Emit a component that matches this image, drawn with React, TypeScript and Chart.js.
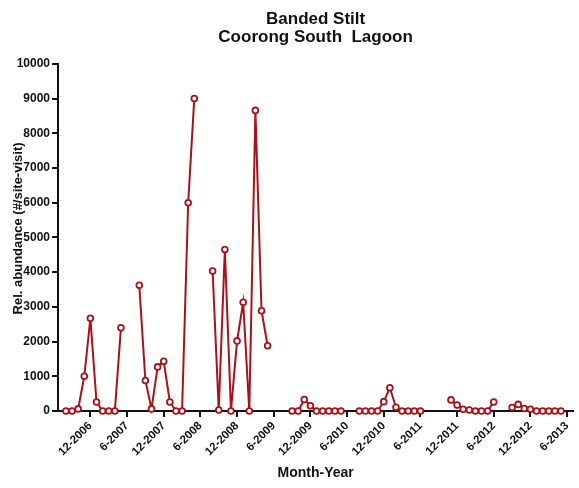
import React, { useEffect, useRef } from "react";
import { Chart, registerables } from "chart.js";

Chart.register(...registerables);

const titleLines = ["Banded Stilt", "Coorong South  Lagoon"];
const xTitle = "Month-Year";
const yTitle = "Rel. abundance (#/site-visit)";

const months = [
  "8-2006", "9-2006", "10-2006", "11-2006", "12-2006",
  "1-2007", "2-2007", "3-2007", "4-2007", "5-2007", "6-2007", "7-2007", "8-2007", "9-2007", "10-2007", "11-2007", "12-2007",
  "1-2008", "2-2008", "3-2008", "4-2008", "5-2008", "6-2008", "7-2008", "8-2008", "9-2008", "10-2008", "11-2008", "12-2008",
  "1-2009", "2-2009", "3-2009", "4-2009", "5-2009", "6-2009", "7-2009", "8-2009", "9-2009", "10-2009", "11-2009", "12-2009",
  "1-2010", "2-2010", "3-2010", "4-2010", "5-2010", "6-2010", "7-2010", "8-2010", "9-2010", "10-2010", "11-2010", "12-2010",
  "1-2011", "2-2011", "3-2011", "4-2011", "5-2011", "6-2011", "7-2011", "8-2011", "9-2011", "10-2011", "11-2011", "12-2011",
  "1-2012", "2-2012", "3-2012", "4-2012", "5-2012", "6-2012", "7-2012", "8-2012", "9-2012", "10-2012", "11-2012", "12-2012",
  "1-2013", "2-2013", "3-2013", "4-2013", "5-2013",
];

const abundance: (number | null)[] = [
  0, 0, 60, 1000, 2670,
  260, 0, 0, 0, 2400, null, null, 3620, 880, 60, 1270, 1430,
  260, 0, 0, 6000, 9000, null, null, 4030, 30, 4650, 0, 2020,
  3130, 0, 8660, 2890, 1880, null, null, null, 0, 0, 330, 150,
  0, 0, 0, 0, 0, null, null, 0, 0, 0, 0, 270,
  670, 110, 0, 0, 0, 0, null, null, null, null, 320, 170,
  50, 30, 0, 0, 0, 260, null, null, 100, 190, 70, 50,
  0, 0, 0, 0, 0,
];

const tickLabels = [
  "12-2006", "6-2007", "12-2007", "6-2008", "12-2008", "6-2009", "12-2009",
  "6-2010", "12-2010", "6-2011", "12-2011", "6-2012", "12-2012", "6-2013",
];

const yTicksMax = 10000;
const yTicksStep = 1000;

const monthIndex = (s: string) => {
  const [m, y] = s.split("-").map(Number);
  return (y - 2006) * 12 + (m - 1);
};

const FONT = "'Liberation Sans', Arial, Helvetica, sans-serif";
const RED = "#a8121a";
const INK = "#111111";

export default function App() {
  const ref = useRef<HTMLCanvasElement | null>(null);

  useEffect(() => {
    if (!ref.current) return;
    const points = months.map((m, i) => ({ x: monthIndex(m), y: abundance[i] }));
    const tickMap = new Map(tickLabels.map((t) => [monthIndex(t), t]));

    const chart = new Chart(ref.current, {
      type: "line",
      data: {
        datasets: [
          {
            data: points as any,
            borderColor: RED,
            borderWidth: 2,
            pointRadius: 2.9,
            pointBorderWidth: 1.8,
            pointBackgroundColor: "#ffffff",
            pointBorderColor: RED,
            spanGaps: false,
            tension: 0,
            clip: false as any,
          },
        ],
      },
      options: {
        animation: false,
        responsive: true,
        maintainAspectRatio: false,
        layout: { padding: 0 },
        plugins: {
          legend: { display: false },
          tooltip: { enabled: false },
          title: {
            display: true,
            text: titleLines,
            fullSize: false,
            color: INK,
            font: { family: FONT, size: 17, weight: "bold", lineHeight: 1.1 },
            padding: { top: 9.5, bottom: 17 },
          },
        },
        scales: {
          x: {
            type: "linear",
            min: 5.7,
            max: 90,
            afterBuildTicks: (scale: any) => {
              scale.ticks = tickLabels.map((t) => ({ value: monthIndex(t) }));
            },
            afterFit: (scale: any) => {
              scale.height = 77;
            },
            ticks: {
              autoSkip: false,
              minRotation: 45,
              maxRotation: 45,
              padding: 2,
              color: INK,
              font: { family: FONT, size: 11.5, weight: "bold" },
              callback: (v: any) => tickMap.get(Number(v)) ?? "",
            },
            grid: {
              drawOnChartArea: false,
              drawTicks: true,
              tickLength: 6,
              color: INK,
              lineWidth: 2,
            },
            border: { display: true, color: INK, width: 2 },
            title: {
              display: true,
              text: xTitle,
              color: INK,
              font: { family: FONT, size: 14, weight: "bold" },
              padding: { top: 0, bottom: 6 },
            },
          },
          y: {
            min: 0,
            max: yTicksMax,
            afterFit: (scale: any) => {
              scale.width = 58;
            },
            ticks: {
              stepSize: yTicksStep,
              padding: 2,
              color: INK,
              font: { family: FONT, size: 12, weight: "bold" },
              callback: (v: any) => String(v),
            },
            grid: {
              drawOnChartArea: false,
              drawTicks: true,
              tickLength: 6,
              color: INK,
              lineWidth: 2,
            },
            border: { display: true, color: INK, width: 2 },
            title: {
              display: true,
              text: "     " + yTitle,
              color: INK,
              font: { family: FONT, size: 13, weight: "bold" },
              padding: { top: 11, bottom: 0 },
            },
          },
        },
      },
    });
    return () => chart.destroy();
  }, []);

  return (
    <div style={{ position: "absolute", left: 0, top: 0, width: 579, height: 488, background: "#fff" }}>
      <canvas ref={ref} />
    </div>
  );
}
